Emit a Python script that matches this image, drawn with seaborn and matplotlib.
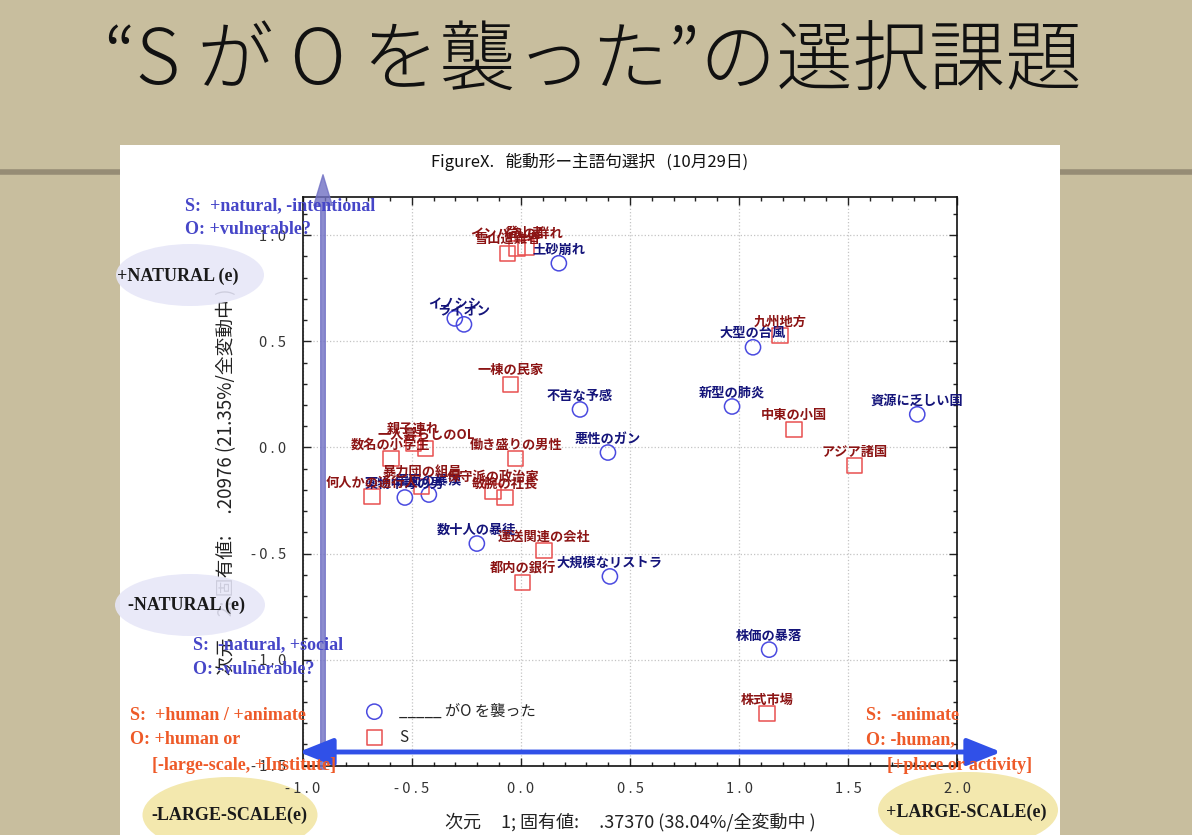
import matplotlib
matplotlib.use("Agg")
import matplotlib.pyplot as plt
from matplotlib.patches import Ellipse, Rectangle, FancyArrowPatch
from matplotlib.lines import Line2D
from matplotlib.ticker import MultipleLocator
import seaborn as sns

# O (objects) - blue circles
blue_labels = ['土砂崩れ', 'イノシシ', 'ライオン', '大型の台風', '不吉な予感', '新型の肺炎',
               '資源に乏しい国', '悪性のガン', '数十人の暴徒', '大規模なリストラ', '株価の暴落',
               '薬物中毒の男', '覆面の暴漢']
blue_x = [0.174, -0.303, -0.261, 1.064, 0.271, 0.968, 1.817, 0.399, -0.202, 0.408, 1.138, -0.532, -0.422]
blue_y = [0.868, 0.608, 0.580, 0.472, 0.179, 0.193, 0.156, -0.024, -0.453, -0.608, -0.953, -0.236, -0.222]

# S (subjects) - red squares
red_labels = ['インパラの群れ', '雪山遭難者', '登山者', '九州地方', '一棟の民家', '中東の小国',
              'アジア諸国', '働き盛りの男性', '数名の小学生', '親子連れ', '一人暮らしのOL',
              '何人かの通行人', '暴力団の組員', '保守派の政治家', '敏腕の社長', '運送関連の会社',
              '都内の銀行', '株式市場']
red_x = [-0.018, -0.060, 0.023, 1.188, -0.046, 1.252, 1.528, -0.023, -0.596, -0.491, -0.436,
         -0.683, -0.454, -0.128, -0.073, 0.106, 0.009, 1.128]
red_y = [0.939, 0.915, 0.943, 0.528, 0.297, 0.085, -0.085, -0.052, -0.052, 0.020, -0.005,
         -0.231, -0.184, -0.208, -0.236, -0.486, -0.637, -1.255]

x_ticks = [-1.0, -0.5, 0.0, 0.5, 1.0, 1.5, 2.0]
y_ticks = [-1.5, -1.0, -0.5, 0.0, 0.5, 1.0]

BG = '#c8be9e'
BLUE_TXT = '#14147a'
RED_TXT = '#8c1414'
ANN_BLUE = '#4646c8'
ANN_RED = '#ee5a28'

sns.set_theme(style='white')
plt.rcParams['font.family'] = ['Noto Sans CJK JP', 'DejaVu Sans']

fig = plt.figure(figsize=(11.92, 8.35), dpi=100, facecolor=BG)

# brush stroke + white panel
fig.add_artist(Line2D([0, 1], [0.794, 0.794], transform=fig.transFigure,
                      color='#6e6454', lw=4, alpha=0.55, zorder=-3))
fig.add_artist(Rectangle((0.1007, 0.0), 0.7886, 0.8263, transform=fig.transFigure,
                         facecolor='white', edgecolor='none', zorder=-2))

fig.text(0.497, 0.924, '“S が O を襲った”の選択課題', ha='center', va='center',
         fontsize=55, color='#111111', fontweight='light')
fig.text(0.495, 0.806, 'FigureX.   能動形ー主語句選択   (10月29日)', ha='center', va='center',
         fontsize=12, color='#111111')

# yellow ellipses sit behind the plot
for cx, cy, w, h in [(230, 815, 175, 76), (968, 810, 180, 76)]:
    fig.add_artist(Ellipse((cx / 1192, 1 - cy / 835), w / 1192, h / 835,
                           transform=fig.transFigure, facecolor='#f3e8ae', edgecolor='none',
                           zorder=-1))

ax = fig.add_axes([0.254, 0.083, 0.549, 0.681])
ax.set_facecolor('none')

sns.scatterplot(x=blue_x, y=blue_y, ax=ax, marker='o', s=120, facecolor='none',
                edgecolor='#4a4ae0', linewidth=1.1, zorder=3)
sns.scatterplot(x=red_x, y=red_y, ax=ax, marker='s', s=120, facecolor='none',
                edgecolor='#e85050', linewidth=1.1, zorder=3)

for lab, x, y in zip(blue_labels, blue_x, blue_y):
    ax.annotate(lab, (x, y), xytext=(0, 5), textcoords='offset points', ha='center',
                va='bottom', fontsize=9.5, fontweight='bold', color=BLUE_TXT, zorder=4)
for lab, x, y in zip(red_labels, red_x, red_y):
    ax.annotate(lab, (x, y), xytext=(0, 5), textcoords='offset points', ha='center',
                va='bottom', fontsize=9.5, fontweight='bold', color=RED_TXT, zorder=4)

ax.set_xlim(-1.0, 2.0)
ax.set_ylim(-1.5, 1.18)
ax.set_xticks(x_ticks)
ax.set_yticks(y_ticks)
ax.set_xticklabels([' '.join(f'{v:.1f}') for v in x_ticks])
ax.set_yticklabels([' '.join(f'{v:.1f}') for v in y_ticks])
ax.xaxis.set_minor_locator(MultipleLocator(0.1))
ax.yaxis.set_minor_locator(MultipleLocator(0.1))
ax.tick_params(which='both', direction='in', top=True, right=True, bottom=True, left=True,
               colors='#222222', labelsize=10.5, labelcolor='#333333')
ax.tick_params(which='major', length=6, width=1)
ax.tick_params(which='minor', length=3, width=1)
ax.tick_params(axis='x', pad=12)
ax.tick_params(axis='y', pad=12)
ax.grid(True, which='major', linestyle=':', color='#c4c4c4', linewidth=0.9)
for sp in ax.spines.values():
    sp.set_visible(True)
    sp.set_color('#111111')
    sp.set_linewidth(1.2)

ax.set_xlabel('次元     1; 固有値:     .37370 (38.04%/全変動中 )', fontsize=13,
              color='#222222', labelpad=12)
ax.set_ylabel('次元     2; 固有値:     .20976 (21.35%/全変動中 )', fontsize=13.5,
              color='#222222', labelpad=10)

handles = list(ax.collections[:2])
ax.legend(handles, ['_____ がO を襲った', 'S'], loc='upper left',
          bbox_to_anchor=(0.065, 0.135), frameon=False, fontsize=11,
          handletextpad=0.6, labelspacing=0.6)

# lavender ellipses drawn over the plot
for cx, cy, w, h in [(190, 275, 148, 62), (190, 605, 150, 62)]:
    fig.add_artist(Ellipse((cx / 1192, 1 - cy / 835), w / 1192, h / 835,
                           transform=fig.transFigure, facecolor='#e6e6f8', edgecolor='none',
                           alpha=0.88, zorder=2))

# axis arrows
fig.add_artist(FancyArrowPatch((323 / 1192, 1 - 772 / 835), (323 / 1192, 1 - 172 / 835),
                               transform=fig.transFigure,
                               arrowstyle='simple,head_length=1.0,head_width=0.6,tail_width=0.15',
                               mutation_scale=22, color='#7070c4', alpha=0.8, zorder=3))
fig.add_artist(FancyArrowPatch((296 / 1192, 1 - 752 / 835), (1004 / 1192, 1 - 752 / 835),
                               transform=fig.transFigure,
                               arrowstyle='<|-|>,head_length=0.8,head_width=0.32',
                               mutation_scale=26, color='#3050e8', lw=3.5, zorder=3))

serif = 'Liberation Serif'
ann = [
    (185, 206, 'S:  +natural, -intentional', ANN_BLUE),
    (185, 230, 'O: +vulnerable?', ANN_BLUE),
    (117, 276, '+NATURAL (e)', '#1a1a1a'),
    (128, 605, '-NATURAL (e)', '#1a1a1a'),
    (193, 645, 'S:  -natural, +social', ANN_BLUE),
    (193, 669, 'O: -vulnerable?', ANN_BLUE),
    (130, 716, 'S:  +human / +animate', ANN_RED),
    (130, 740, 'O: +human or', ANN_RED),
    (152, 765, '[-large-scale, +Institute]', ANN_RED),
    (866, 716, 'S:  -animate', ANN_RED),
    (866, 740, 'O: -human,', ANN_RED),
    (887, 765, '[+place or activity]', ANN_RED),
    (151, 815, '-LARGE-SCALE(e)', '#1a1a1a'),
    (886, 812, '+LARGE-SCALE(e)', '#1a1a1a'),
]
for px, py, txt, col in ann:
    fig.text(px / 1192, 1 - py / 835, txt, ha='left', va='center', fontsize=13,
             fontweight='bold', family=serif, color=col, zorder=5)

fig.savefig('out.png', dpi=100, facecolor=BG)
